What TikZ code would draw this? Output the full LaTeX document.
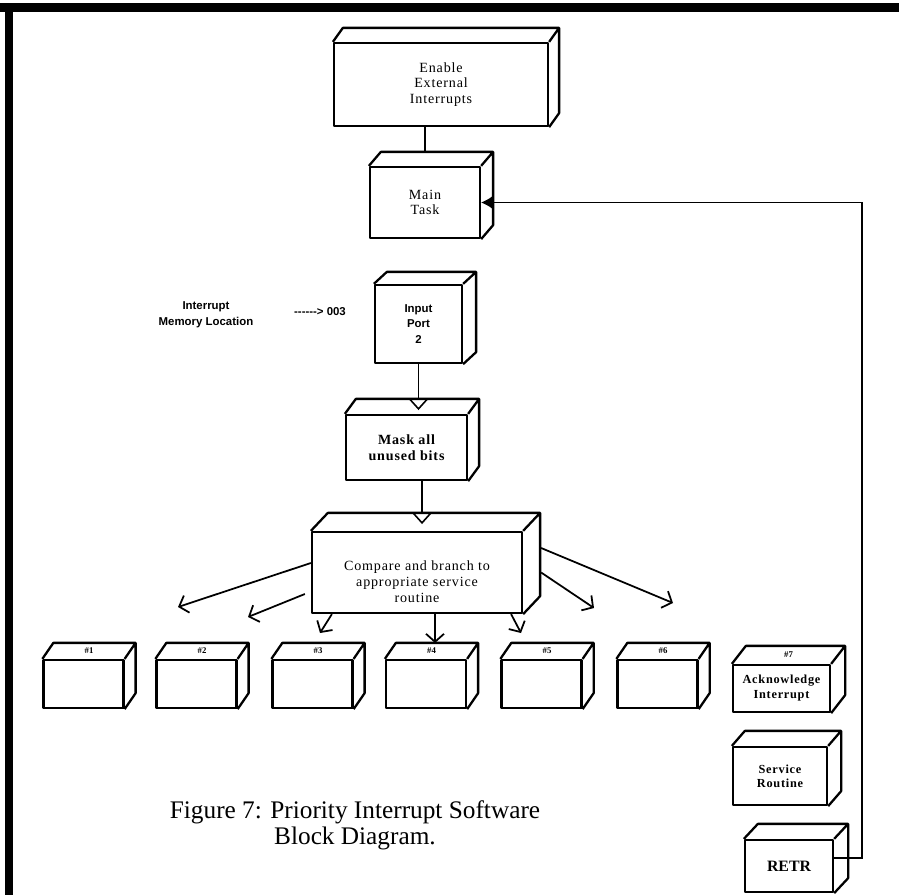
\documentclass[tikz,border=0pt]{standalone}
\usepackage{fontspec}
\setmainfont{Liberation Serif}
\setsansfont{Liberation Sans}
\newfontfamily\boxfont[LetterSpace=6]{Liberation Serif}
\usetikzlibrary{calc,arrows.meta}

% top and right face of a block
\newcommand{\boxfaces}[3]{%
  \draw[blkline] (#1.north west) -- ++(#2,-#3) -- ($(#1.north east)+(#2,-#3)$)
    -- ($(#1.south east)+(#2,-#3)$) -- (#1.south east)
    (#1.north east) -- ++(#2,-#3);}

\begin{document}
\begin{tikzpicture}[x=0.02cm,y=-0.02cm,
blkline/.style={line width=1.3pt,line join=round},
blk/.style={draw,blkline,fill=white,inner sep=0pt,align=center,
    font=\boxfont\fontsize{8}{9}\selectfont},
small/.style={blk,minimum width=1.6cm,minimum height=0.96cm},
lbl/.style={font=\sffamily\bfseries\fontsize{6.5}{9}\selectfont,align=center},
num/.style={font=\bfseries\fontsize{5}{6}\selectfont,inner sep=0pt},
wire/.style={line width=0.9pt},
brarrow/.style={line width=1pt,-{Straight Barb[length=1.6mm,width=3.6mm]}}]
\useasboundingbox (0,0) rectangle (899,895);

% frame
\draw[line width=5pt] (0,7.5) -- (899,7.5);
\draw[line width=4.5pt] (9,7.5) -- (9,895);

\node[blk,minimum width=4.28cm,minimum height=1.66cm] (enable) at (441,84.5)
    {Enable\\External\\Interrupts};
\node[blk,minimum width=2.2cm,minimum height=1.42cm] (main) at (425,202.5)
    {Main\\Task};
\node[blk,lbl,minimum width=1.74cm,minimum height=1.56cm] (inport) at (418.5,324)
    {Input\\Port\\2};
\node[blk,minimum width=2.42cm,minimum height=1.3cm,font=\boxfont\bfseries\fontsize{8}{9}\selectfont]
    (mask) at (406.5,447.5) {Mask all\\unused bits};
\node[blk,minimum width=4.2cm,minimum height=1.62cm] (compare) at (417,572.5) {};
\node[align=center,font=\boxfont\fontsize{8}{9}\selectfont] (cmptext) at ($(compare)+(0,9)$)
    {Compare and branch to\\appropriate service\\routine};
\boxfaces{enable}{10}{14}
\boxfaces{main}{12}{14}
\boxfaces{inport}{13}{12}
\boxfaces{mask}{11}{15}
\boxfaces{compare}{17}{18}

\node[lbl] (memloc) at (206,315) {Interrupt\\Memory Location};
\node[lbl] (vector) at (320,312) {{-}{-}{-}{-}{-}{-}> 003};

% links down the column
\draw[wire] (enable.south -| main.north) -- ($(main.north)+(0,-14)$);
\coordinate (maskback) at ($(mask.north)+(11,-15)$);
\draw[wire] (inport.south) -- (inport.south |- maskback);
\draw[wire] ($(inport.south |- maskback)+(-9,0)$) -- ++(9,10) -- ++(9,-10);
\coordinate (cmpback) at ($(compare.north)+(5,-18)$);
\draw[wire] (mask.south -| cmpback) -- (cmpback);
\draw[wire] ($(cmpback)+(-9,0)$) -- ++(9,10) -- ++(9,-10);

% service boxes
\foreach \i/\cx in {1/83.5,2/196.5,3/312.5,4/426,5/541.5,6/657.5}{
  \node[small] (b\i) at (\cx,684) {};
  \boxfaces{b\i}{11}{16}
  \node[num] (n\i) at ($(b\i.north)+(5.5,-8)$) {\#\i};
}
\node[blk,minimum width=1.94cm,minimum height=0.94cm,font=\boxfont\bfseries\fontsize{7}{8.5}\selectfont]
    (b7) at (781.5,688.5) {Acknowledge\\Interrupt};
\boxfaces{b7}{14}{18}
\node[num] (n7) at ($(b7.north)+(7,-9)$) {\#7};
\node[blk,minimum width=1.88cm,minimum height=1.16cm,font=\boxfont\bfseries\fontsize{7}{8}\selectfont]
    (service) at (780,776) {Service\\Routine};
\boxfaces{service}{13}{15}
\node[blk,minimum width=1.76cm,minimum height=1.04cm,font=\bfseries\fontsize{9}{10}\selectfont]
    (retr) at (789,866) {RETR};
\boxfaces{retr}{14}{15}

% branches
\coordinate (t1) at (178,607);
\coordinate (t2) at (248,617);
\coordinate (t3) at (320,633);
\coordinate (t4) at (435,643);
\coordinate (t5) at (521,633);
\coordinate (t6) at (594,608);
\coordinate (t7) at (673,603);
\draw[brarrow] ($(compare.west)+(0,-9.5)$) -- (t1);
\draw[brarrow] ($(compare.west)+(-6,21.5)$) -- (t2);
\draw[brarrow] ($(compare.south west)+(21,0)$) -- (t3);
\draw[brarrow] ($(compare.south)+(18,0)$) -- (t4);
\draw[brarrow] ($(compare.south east)+(-12,0)$) -- (t5);
\draw[brarrow] ($(compare.east)+(18,0)$) -- (t6);
\draw[brarrow] ($(compare.east)+(18,-24.5)$) -- (t7);

% return path
\coordinate (loop) at (862,202.5);
\draw[wire,-{Latex[length=2.4mm,width=2.8mm]}] ($(retr.east)+(0,-8)$) -| (loop) -- (main.east);

\node[align=center,font=\fontsize{14.4}{14.7}\selectfont] (caption) at (355,825)
    {Figure 7: Priority Interrupt Software\\Block Diagram.};
\end{tikzpicture}
\end{document}
